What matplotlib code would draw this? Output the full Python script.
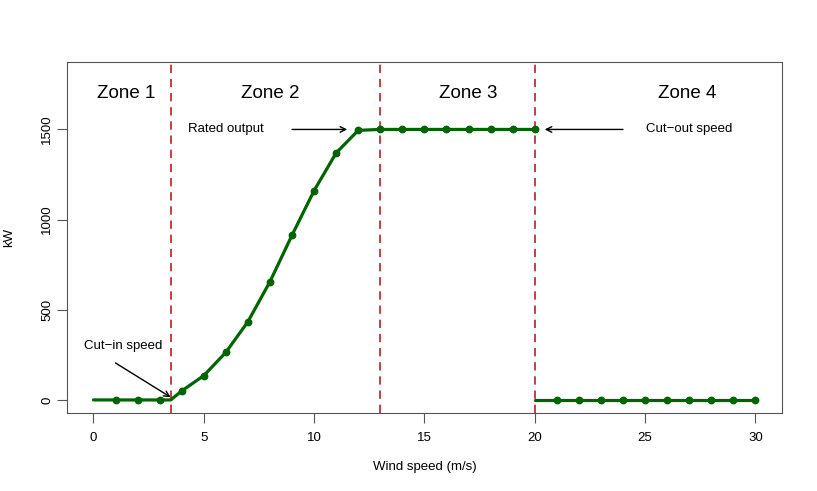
import matplotlib.pyplot as plt

plt.rcParams['font.family'] = ['Liberation Sans', 'DejaVu Sans']

# Power curve data
speed_points = [1, 2, 3, 4, 5, 6, 7, 8, 9, 10, 11, 12, 13, 14, 15, 16, 17, 18, 19, 20,
                21, 22, 23, 24, 25, 26, 27, 28, 29, 30]
power_points = [0, 0, 0, 50, 135, 264, 434, 656, 914, 1161, 1370, 1495, 1500, 1500, 1500,
                1500, 1500, 1500, 1500, 1500, 0, 0, 0, 0, 0, 0, 0, 0, 0, 0]

# Curve up to cut-out, and flat line after it
curve_speed = [0, 3.5, 4, 5, 6, 7, 8, 9, 10, 11, 12, 13, 14, 15, 16, 17, 18, 19, 20]
curve_power = [0, 0, 50, 135, 264, 434, 656, 914, 1161, 1370, 1495, 1500, 1500, 1500,
               1500, 1500, 1500, 1500, 1500]
off_speed = [20, 30]
off_power = [0, 0]

zone_limits = [3.5, 13, 20]
zone_names = ["Zone 1", "Zone 2", "Zone 3", "Zone 4"]
zone_centers = [1.5, 8.0, 17.0, 26.9]

green = "#006400"
red = "#B22222"
frame = "#555555"

fig = plt.figure(figsize=(8.17, 4.91), dpi=100)
ax = fig.add_axes([0.082, 0.159, 0.875, 0.714])

ax.plot(curve_speed, curve_power, color=green, lw=2.3, solid_capstyle="round",
        solid_joinstyle="round", zorder=3)
ax.plot(off_speed, off_power, color=green, lw=2.3, solid_capstyle="round", zorder=3)
ax.plot(speed_points, power_points, "o", color=green, ms=4.6, zorder=4)

for z in zone_limits:
    ax.axvline(z, color=red, lw=1.2, ls=(0, (5, 3.5)), zorder=2)

for name, cx in zip(zone_names, zone_centers):
    ax.text(cx, 1697, name, fontsize=13.5, ha="center", va="center")

# annotations
arrow = dict(arrowstyle="->", color="black", lw=1.0, shrinkA=0, shrinkB=0)
ax.text(6.0, 1500, "Rated output", fontsize=9.5, ha="center", va="center")
ax.annotate("", xy=(11.5, 1500), xytext=(9.0, 1500), arrowprops=arrow)
ax.text(27.0, 1500, "Cut\u2212out speed", fontsize=9.5, ha="center", va="center")
ax.annotate("", xy=(20.45, 1500), xytext=(24.0, 1500), arrowprops=arrow)
ax.text(1.35, 300, "Cut\u2212in speed", fontsize=9.5, ha="center", va="center")
ax.annotate("", xy=(3.5, 15), xytext=(1.0, 205), arrowprops=arrow)

ax.set_xlim(-1.2, 31.2)
ax.set_ylim(-72, 1872)
ax.set_xticks([0, 5, 10, 15, 20, 25, 30])
ax.set_yticks([0, 500, 1000, 1500])
ax.set_yticklabels(["0", "500", "1000", "1500"], rotation=90, va="center")

for s in ax.spines.values():
    s.set_color(frame)
ax.tick_params(direction="out", length=7, color=frame, labelsize=9.5)
ax.tick_params(axis="x", pad=7)
ax.tick_params(axis="y", pad=3)

ax.set_xlabel("Wind speed (m/s)", fontsize=9.5, labelpad=12)
ax.set_ylabel("kW", fontsize=9.5, labelpad=19)

fig.savefig("out.png", dpi=100)
